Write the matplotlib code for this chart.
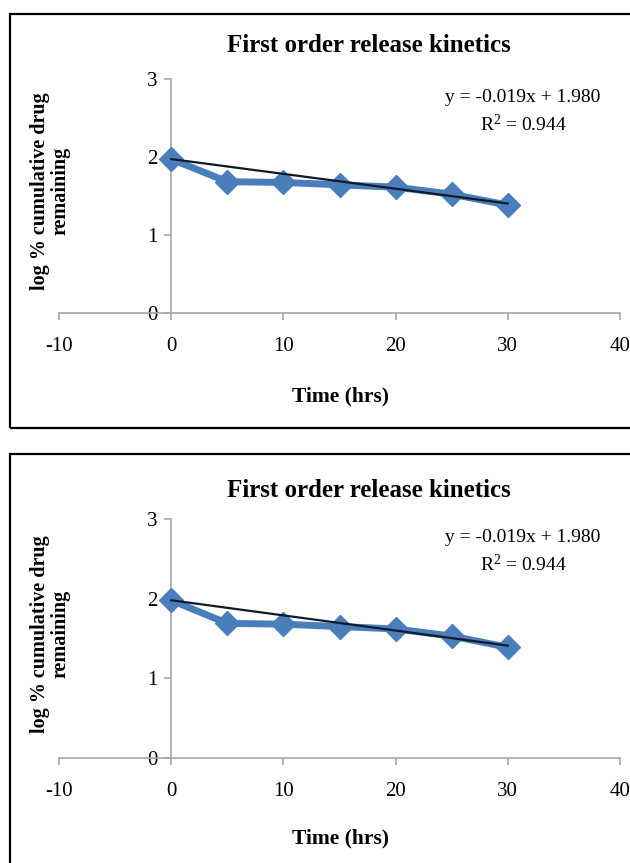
import matplotlib
matplotlib.use("Agg")
import matplotlib.pyplot as plt
from matplotlib.patches import Rectangle

plt.rcParams['font.family'] = ['Liberation Serif', 'DejaVu Serif']
plt.rcParams['axes.unicode_minus'] = False
plt.rcParams['mathtext.fontset'] = 'custom'
plt.rcParams['mathtext.rm'] = 'Liberation Serif'
plt.rcParams['mathtext.it'] = 'Liberation Serif:italic'

# data
time_hrs = [0, 5, 10, 15, 20, 25, 30]
log_remaining = [1.98, 1.69, 1.68, 1.65, 1.62, 1.53, 1.39]
slope = -0.019
intercept = 1.980
r2 = 0.944
x_ticks = [-10, 0, 10, 20, 30, 40]
y_ticks = [0, 1, 2, 3]

W, H = 630, 863
fig = plt.figure(figsize=(W / 100, H / 100), dpi=100)


def fx(px):
    return px / W


def fy(py):
    return 1 - py / H


def panel(top, ax_y0, ax_y3, title_y, eq_y, r2_y, xlab_y, ylab_y, box_bottom):
    # outer frame
    fig.patches.append(Rectangle((fx(10), fy(box_bottom)), 1.2, fy(top) - fy(box_bottom),
                                 transform=fig.transFigure, fill=False,
                                 edgecolor='black', linewidth=1.6))
    ax = fig.add_axes([fx(59), fy(ax_y0), fx(620) - fx(59), fy(ax_y3) - fy(ax_y0)])
    ax.plot(time_hrs, log_remaining, color='#4A7EBB', linewidth=5,
            marker='D', markersize=12.5, markeredgecolor='#4A7EBB', zorder=3)
    trend_x = [time_hrs[0], time_hrs[-1]]
    trend_y = [slope * v + intercept for v in trend_x]
    ax.plot(trend_x, trend_y, color='#111a2a', linewidth=1.6, zorder=4)

    ax.set_xlim(-10, 40)
    ax.set_ylim(0, 3)
    ax.set_xticks(x_ticks)
    ax.set_yticks(y_ticks)
    ax.spines['left'].set_position(('data', 0))
    for s in ['top', 'right']:
        ax.spines[s].set_visible(False)
    for s in ['left', 'bottom']:
        ax.spines[s].set_color('#a6a6a6')
        ax.spines[s].set_linewidth(1.2)
    ax.tick_params(colors='#a6a6a6', labelcolor='black', labelsize=15,
                   length=5, width=1.2)
    ax.tick_params(axis='x', pad=12)
    ax.tick_params(axis='y', pad=5)
    ax.patch.set_alpha(0)

    fig.text(fx(369), fy(title_y), 'First order release kinetics', ha='center', va='center',
             fontsize=18, fontweight='bold')
    fig.text(fx(523), fy(eq_y), 'y = -0.019x + 1.980', ha='center', va='center', fontsize=14)
    fig.text(fx(523), fy(r2_y), 'R$^2$ = %.3f' % r2, ha='center', va='center', fontsize=14)
    fig.text(fx(341), fy(xlab_y), 'Time (hrs)', ha='center', va='center',
             fontsize=15.5, fontweight='bold')
    fig.text(fx(50), fy(ylab_y), 'log % cumulative drug\nremaining', ha='center', va='center',
             rotation=90, fontsize=14.5, fontweight='bold', linespacing=1.05)


panel(14, 313.5, 79.5, 46, 97, 124, 396, 191, 428)
panel(454, 758, 519, 490, 537, 564, 838, 634, 900)

fig.savefig('out.png', dpi=100)
